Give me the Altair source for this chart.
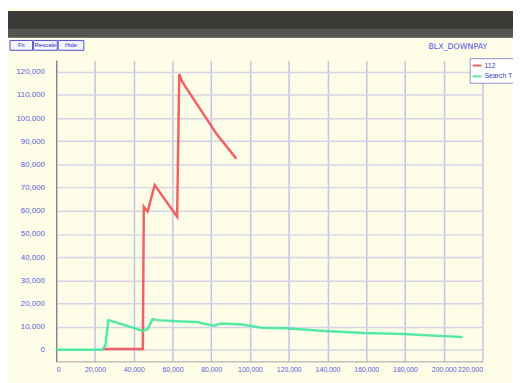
import altair as alt
import pandas as pd

# ---- data ----
red_name = "112"
red_x = [23900, 44700, 45200, 47200, 50800, 62400, 63500, 65000, 72600, 82700, 92900]
red_y = [300, 300, 61700, 59600, 71100, 57400, 119000, 115700, 106000, 93200, 82500]

green_name = "Search T"
green_x = [0, 23900, 25400, 26900, 36000, 44700, 47200, 49700, 52300, 62400, 72600,
           81000, 85300, 96000, 106000, 118000, 138600, 158900, 179200, 199700, 209600]
green_y = [0, 0, 2000, 12800, 10500, 8100, 9000, 13200, 12800, 12300, 12000,
           10400, 11300, 10900, 9500, 9300, 8100, 7200, 6800, 5900, 5500]

x_ticks = list(range(0, 220001, 20000))
y_ticks = list(range(0, 120001, 10000))
title_text = "BLX_DOWNPAY"
buttons = ["Fit", "Rescale", "Hide"]

df = pd.concat([
    pd.DataFrame({"x": red_x, "y": red_y, "series": red_name, "order": range(len(red_x))}),
    pd.DataFrame({"x": green_x, "y": green_y, "series": green_name, "order": range(len(green_x))}),
])

W, H = 433, 306

lines = alt.Chart(df).mark_line(strokeWidth=2.5, opacity=0.9).encode(
    x=alt.X("x:Q", scale=alt.Scale(domain=[0, 220000], nice=False),
            axis=alt.Axis(values=x_ticks, format=",d", title=None, labelFontSize=7,
                          labelColor="#5a5ae0", labelPadding=4, tickSize=0, labelOverlap=False,
                          gridColor="#c4c4e4", gridWidth=1.5, domainColor="#a0a0a0")),
    y=alt.Y("y:Q", scale=alt.Scale(domain=[-5000, 125000], nice=False),
            axis=alt.Axis(values=y_ticks, format=",d", title=None, labelFontSize=8,
                          labelColor="#5a5ae0", labelPadding=12, tickSize=0, labelOverlap=False,
                          gridColor="#d4d4e6", gridWidth=1.5, domainColor="#707070")),
    color=alt.Color("series:N",
                    scale=alt.Scale(domain=[red_name, green_name], range=["#f05050", "#40e8a0"]),
                    legend=alt.Legend(title=None, orient="none", legendX=420, legendY=-2,
                                      labelFontSize=7, labelColor="#4040c0", symbolType="stroke",
                                      symbolSize=80, symbolStrokeWidth=2, padding=2,
                                      rowPadding=1, labelOffset=2, strokeColor="#9090d0",
                                      fillColor="#ffffff")),
    order="order:Q",
)

bar = alt.Chart(pd.DataFrame({"a": [0]})).mark_rect(color="#3c3b37").encode(
    x=alt.value(-49), x2=alt.value(464), y=alt.value(-50), y2=alt.value(-23))
bar2 = alt.Chart(pd.DataFrame({"a": [0]})).mark_rect(color="#55544f").encode(
    x=alt.value(-49), x2=alt.value(464), y=alt.value(-32), y2=alt.value(-23))

title = alt.Chart(pd.DataFrame({"t": [title_text]})).mark_text(
    fontSize=8, color="#5050e0", align="center", font="DejaVu Sans").encode(
    text="t:N", x=alt.value(408), y=alt.value(-13))

btn_layers = []
bx = [(-47, -24), (-23, 1), (2, 28)]
for label, (a, b) in zip(buttons, bx):
    btn_layers.append(alt.Chart(pd.DataFrame({"t": [label]})).mark_rect(
        fill="#f4f4ff", stroke="#5050d0", strokeWidth=1).encode(
        x=alt.value(a), x2=alt.value(b), y=alt.value(-20), y2=alt.value(-10)))
    btn_layers.append(alt.Chart(pd.DataFrame({"t": [label]})).mark_text(
        fontSize=6, color="#3030c0").encode(
        text="t:N", x=alt.value((a + b) / 2), y=alt.value(-15)))

chart = alt.layer(bar, bar2, lines, title, *btn_layers).properties(
    width=W, height=H,
    autosize=alt.AutoSizeParams(type="none"),
    padding={"left": 49, "top": 50, "right": 31, "bottom": 19},
    background="#fdfde8",
).configure_view(stroke=None, fill="#fdfde8")

chart.save("out.html", embed_options={"renderer": "svg", "actions": False})
